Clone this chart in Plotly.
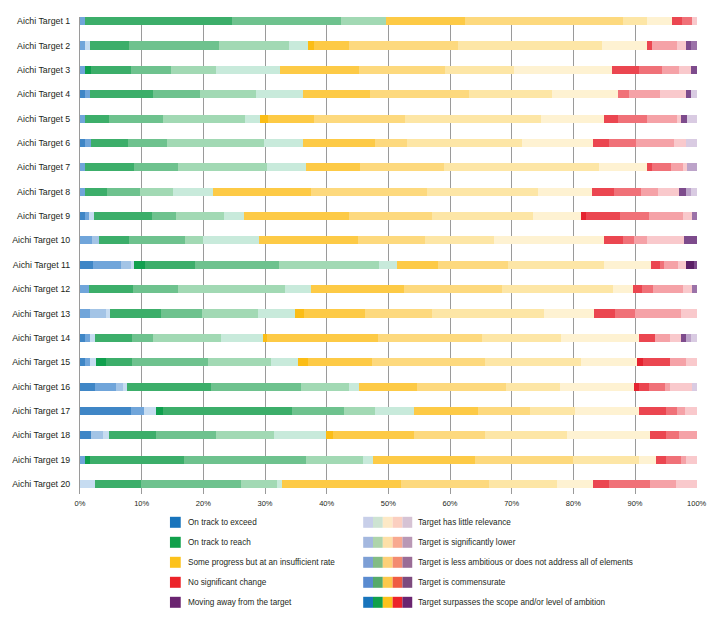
import plotly.graph_objects as go

targets = ["Aichi Target 1", "Aichi Target 2", "Aichi Target 3", "Aichi Target 4", "Aichi Target 5",
           "Aichi Target 6", "Aichi Target 7", "Aichi Target 8", "Aichi Target 9", "Aichi Target 10",
           "Aichi Target 11", "Aichi Target 12", "Aichi Target 13", "Aichi Target 14", "Aichi Target 15",
           "Aichi Target 16", "Aichi Target 17", "Aichi Target 18", "Aichi Target 19", "Aichi Target 20"]

status_names = ["On track to exceed", "On track to reach", "Some progress but at an insufficient rate",
                "No significant change", "Moving away from the target"]
ambition_names = ["Target surpasses the scope and/or level of ambition", "Target is commensurate",
                  "Target is less ambitious or does not address all of elements",
                  "Target is significantly lower", "Target has little relevance"]

x_ticks = [0, 10, 20, 30, 40, 50, 60, 70, 80, 90, 100]
x_tick_labels = ["0%", "10%", "20%", "30%", "40%", "50%", "60%", "70%", "80%", "90%", "100%"]

# On track to exceed
exceed_surpasses = [0, 0, 0, 0, 0, 0, 0, 0, 0, 0, 0, 0, 0, 0, 0, 0, 0, 0, 0, 0]
exceed_commensurate = [0, 0, 0, 0.8, 0, 0.8, 0, 0, 0.8, 0, 2.1, 0, 0, 0.85, 0.85, 2.4, 8.3, 1.8, 0, 0]
exceed_less = [0.85, 0.8, 0.85, 0.8, 0.85, 1.0, 0.8, 0.85, 0.7, 2.0, 4.6, 1.5, 1.7, 0.75, 0.85, 3.5, 2.1, 0, 0.8, 0]
exceed_lower = [0, 0, 0, 0, 0, 0, 0, 0, 0, 1.0, 1.6, 0, 2.5, 0, 0, 1.1, 0, 2.0, 0, 0]
exceed_little = [0, 0.8, 0, 0, 0, 0, 0, 0, 0.8, 0, 0.5, 0, 0.7, 0.9, 0.9, 0.7, 2.0, 0.9, 0, 2.4]

# On track to reach
reach_surpasses = [0, 0, 0.95, 0, 0, 0, 0, 0, 0, 0, 1.8, 0, 0, 0, 1.6, 0, 1.0, 0, 0.9, 0]
reach_commensurate = [23.85, 6.4, 6.5, 10.3, 3.85, 6.0, 8.0, 3.45, 9.4, 5.0, 8.0, 7.1, 8.3, 6.0, 4.3, 13.6, 20.9, 7.6, 15.1, 7.5]
reach_less = [17.7, 14.6, 6.4, 7.5, 8.7, 6.3, 7.1, 5.5, 3.9, 9.1, 13.6, 7.3, 6.6, 3.4, 12.2, 14.6, 8.5, 9.8, 19.9, 16.2]
reach_lower = [7.2, 11.3, 7.4, 9.1, 13.3, 15.8, 14.5, 5.3, 7.8, 2.8, 16.3, 17.3, 9.0, 10.9, 10.3, 7.7, 5.0, 9.3, 9.2, 5.9]
reach_little = [0, 3.1, 10.3, 7.6, 2.5, 6.3, 6.3, 6.4, 3.2, 9.1, 2.9, 4.2, 6.0, 6.9, 4.4, 1.6, 6.4, 8.5, 1.6, 0.7]

# Some progress but at an insufficient rate
progress_surpasses = [0, 0.9, 0, 0, 1.3, 0, 0, 0, 0, 0, 0, 0, 1.6, 0.7, 1.6, 0, 0, 1.1, 0, 0]
progress_commensurate = [12.8, 5.7, 12.8, 10.9, 7.4, 11.6, 8.7, 16.0, 17.1, 16.0, 6.7, 15.1, 9.8, 18.0, 10.4, 9.4, 10.3, 13.2, 16.6, 19.4]
progress_less = [25.6, 17.7, 14.0, 16.1, 14.8, 5.3, 13.7, 18.7, 13.3, 11.0, 11.3, 15.9, 10.8, 16.8, 18.2, 14.5, 8.4, 11.4, 15.9, 14.2]
progress_lower = [3.9, 23.4, 11.2, 13.5, 22.1, 18.5, 25.0, 18.0, 16.5, 11.1, 15.6, 18.1, 18.2, 12.8, 15.6, 8.7, 7.4, 13.4, 10.6, 11.1]
progress_little = [4.1, 7.2, 15.9, 10.7, 10.2, 11.6, 7.8, 8.9, 7.7, 17.9, 7.6, 3.1, 8.2, 12.6, 9.2, 12.0, 10.4, 13.4, 2.8, 5.8]

# No significant change
nochange_surpasses = [0, 0, 0, 0, 0, 0, 0, 0, 0.9, 0, 0, 0, 0, 0, 0.9, 0.8, 0, 0, 0, 0]
nochange_commensurate = [1.6, 0.8, 4.4, 0, 2.3, 2.5, 0.9, 3.5, 5.5, 3.0, 1.4, 1.6, 3.3, 2.6, 4.3, 1.6, 4.3, 2.7, 1.6, 2.5]
nochange_less = [1.6, 0, 3.7, 1.8, 4.7, 4.5, 3.1, 4.4, 4.6, 1.9, 0.7, 1.7, 3.3, 0, 0, 2.6, 1.8, 2.0, 2.5, 6.8]
nochange_lower = [0, 4.1, 2.7, 4.9, 4.8, 6.2, 1.8, 2.7, 5.5, 2.0, 2.2, 4.8, 7.5, 2.4, 2.7, 0.8, 1.3, 2.9, 0.8, 4.2]
nochange_little = [0.8, 1.4, 2.0, 4.2, 0.7, 1.8, 0.7, 3.5, 1.5, 6.1, 1.4, 1.5, 2.5, 1.9, 1.7, 3.6, 1.9, 0, 1.7, 3.3]

# Moving away from the target
away_surpasses = [0, 0, 0, 0, 0, 0, 0, 0, 0, 0, 1.2, 0, 0, 0, 0, 0, 0, 0, 0, 0]
away_commensurate = [0, 0.9, 0.9, 0.9, 0.9, 0, 0, 1.0, 0, 2.0, 0.5, 0, 0, 0.8, 0, 0, 0, 0, 0, 0]
away_less = [0, 0.9, 0, 0, 0, 0, 0, 0, 0.8, 0, 0, 0.8, 0, 0, 0, 0, 0, 0, 0, 0]
away_lower = [0, 0, 0, 0, 0, 0, 1.6, 0.9, 0, 0, 0, 0, 0, 0.8, 0, 0, 0, 0, 0, 0]
away_little = [0, 0, 0, 0.9, 1.6, 1.8, 0, 0.9, 0, 0, 0, 0, 0, 0.9, 0, 0.8, 0, 0, 0, 0]

series = [
    [exceed_surpasses, exceed_commensurate, exceed_less, exceed_lower, exceed_little],
    [reach_surpasses, reach_commensurate, reach_less, reach_lower, reach_little],
    [progress_surpasses, progress_commensurate, progress_less, progress_lower, progress_little],
    [nochange_surpasses, nochange_commensurate, nochange_less, nochange_lower, nochange_little],
    [away_surpasses, away_commensurate, away_less, away_lower, away_little],
]

bar_colors = [
    ["#1a75bc", "#3f86c6", "#70a5da", "#a3c4e6", "#c6dcf1"],
    ["#10a04e", "#3cae6a", "#6ec28e", "#a2d9b4", "#c8eadb"],
    ["#fbbd16", "#fdca46", "#fdd97e", "#fde6a6", "#fef2d2"],
    ["#e52330", "#eb4650", "#f07178", "#f5a2a7", "#f9c9cc"],
    ["#5b1f66", "#7d4b8c", "#9b72a8", "#bca3c9", "#d9cbe2"],
]

status_colors = ["#1874bc", "#10a04b", "#fcc21b", "#ec2329", "#6a2470"]
legend_shade_colors = [
    ["#1874bc", "#10a04b", "#fcc21b", "#ec2329", "#6a2470"],
    ["#5a8bd0", "#55aa6a", "#fdc94b", "#ef5c43", "#7d4a7e"],
    ["#7d9fd5", "#82bc84", "#fdd078", "#f38b70", "#9a6c96"],
    ["#a4b8df", "#add4ab", "#fde0a8", "#f8a990", "#b998b5"],
    ["#c8cfe9", "#cde3d2", "#fde9c6", "#fbcfc0", "#d6c3d4"],
]

FONT = "Liberation Sans, Arial, sans-serif"
W, H = 719, 617
ML, MR, MT, MB = 73, 17, 17, 123

fig = go.Figure()
for si, sname in enumerate(status_names):
    for ai, aname in enumerate(ambition_names):
        fig.add_trace(go.Bar(
            y=targets, x=series[si][ai], orientation="h",
            name=f"{sname} – {aname}",
            marker=dict(color=bar_colors[si][ai], line=dict(width=0)),
            width=0.33, showlegend=False,
            hovertemplate="%{y}: %{x}%<extra>" + sname + " / " + aname + "</extra>",
        ))

pw = W - ML - MR
ph = H - MT - MB


def px2x(px):
    return (px - ML) / pw


def px2y(py):
    return (H - MB - py) / ph


shapes = []
annotations = []
rows_y = [522.3, 542.3, 562.3, 582.3, 602.3]
# left column: status
for i, name in enumerate(status_names):
    cy = rows_y[i]
    shapes.append(dict(type="rect", xref="paper", yref="paper",
                       x0=px2x(164.7), x1=px2x(175.7), y0=px2y(cy + 5.5), y1=px2y(cy - 5.5),
                       fillcolor=status_colors[i], line=dict(width=0)))
    annotations.append(dict(xref="paper", yref="paper", x=px2x(180.7), y=px2y(cy),
                            text=name, showarrow=False, xanchor="left", yanchor="middle",
                            font=dict(family=FONT, size=8.2, color="#231f20")))
# right column: ambition (little relevance on top)
amb_order = [4, 3, 2, 1, 0]
for i, ai in enumerate(amb_order):
    cy = rows_y[i]
    for j in range(5):
        x0 = 361.7 + 10 * j
        shapes.append(dict(type="rect", xref="paper", yref="paper",
                           x0=px2x(x0), x1=px2x(x0 + 10), y0=px2y(cy + 5.5), y1=px2y(cy - 5.5),
                           fillcolor=legend_shade_colors[ai][j], line=dict(width=0)))
    annotations.append(dict(xref="paper", yref="paper", x=px2x(415.7), y=px2y(cy),
                            text=ambition_names[ai], showarrow=False, xanchor="left", yanchor="middle",
                            font=dict(family=FONT, size=8.2, color="#231f20")))

fig.update_layout(
    width=W, height=H,
    margin=dict(l=ML, r=MR, t=MT, b=MB, pad=0),
    barmode="stack", bargap=0,
    plot_bgcolor="white", paper_bgcolor="white",
    showlegend=False,
    font=dict(family=FONT, color="#231f20"),
    shapes=shapes, annotations=annotations,
    xaxis=dict(range=[0, 100.05], tickmode="array", tickvals=x_ticks, ticktext=x_tick_labels,
               showgrid=True, gridcolor="#9a9a9a", gridwidth=1, zeroline=False, showline=False,
               ticks="", tickfont=dict(family=FONT, size=7.5, color="#231f20"),
               ticklabelstandoff=3, fixedrange=True),
    yaxis=dict(type="category", categoryorder="array", categoryarray=targets,
               range=[19.41, -0.17], showgrid=False, zeroline=False,
               showline=True, linecolor="#9a9a9a", linewidth=1,
               ticks="", ticklabelstandoff=7, tickfont=dict(family=FONT, size=8.8, color="#231f20"),
               fixedrange=True),
)

fig.write_html("out.html")
